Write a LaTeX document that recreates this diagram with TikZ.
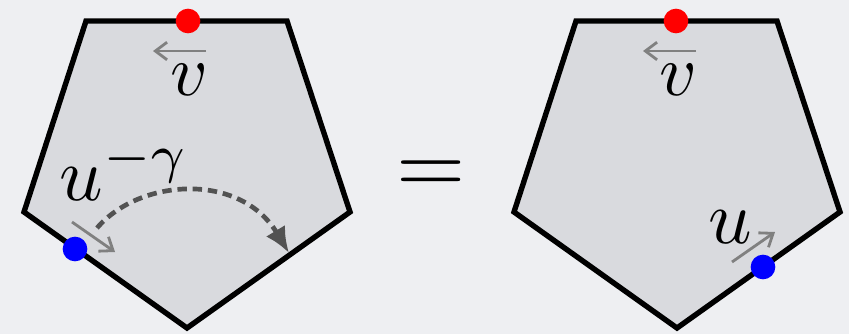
\documentclass[tikz,border=0pt]{standalone}
\usetikzlibrary{arrows.meta}
\definecolor{bgcol}{RGB}{238,239,242}
\definecolor{facecol}{RGB}{217,218,222}
\begin{document}
\begin{tikzpicture}[
        x=0.03cm, y=-0.03cm,
        % Styles
        face/.style={draw=black, fill=facecol, line width=4.6pt},
        dot/.style={circle, fill=#1, draw=none, inner sep=0pt, minimum size=0.74cm},
        dir/.style={-{Straight Barb[length=10pt, width=15pt]}, draw=gray, line width=2.4pt},
        move/.style={-{Latex[length=22pt, width=19pt]}, draw=black!68, line width=4pt, dash pattern=on 8pt off 5pt},
        lbl/.style={inner sep=0pt, scale=#1}
    ]

    % Background
    \fill[bgcol] (0,0) rectangle (849,334);
    \useasboundingbox (0,0) rectangle (849,334);

    % Left pentagon
    \draw[face] (86,21) -- (287,21) -- (350,212) -- (187,328) -- (24,212) -- cycle;
    \node[dot=red] (topL) at (188,21) {};
    \node[dot=blue] (uL) at (75,249) {};

    \coordinate (vLs) at (206,51);
    \coordinate (vLe) at (153,51);
    \draw[dir] (vLs) -- (vLe);
    \node[lbl=6.2, anchor=base] (vL) at (189,95) {$v$};

    \coordinate (uLs) at (72,222);
    \coordinate (uLe) at (115,252);
    \draw[dir] (uLs) -- (uLe);
    \node[lbl=6.5, anchor=base west] (uLlbl) at (58,200) {$u^{-\gamma}$};

    \coordinate (arcS) at (97,228);
    \coordinate (arcE) at (289,253);
    \draw[move] (arcS) .. controls (140,178) and (240,172) .. (arcE);

    % Equality
    \node[lbl=7.6, anchor=base] (eq) at (431,193) {$=$};

    % Right pentagon
    \draw[face] (576,21) -- (777,21) -- (840,212) -- (677,328) -- (514,212) -- cycle;
    \node[dot=red] (topR) at (676,21) {};
    \node[dot=blue] (uR) at (763,267) {};

    \coordinate (vRs) at (696,51);
    \coordinate (vRe) at (643,51);
    \draw[dir] (vRs) -- (vRe);
    \node[lbl=6.2, anchor=base] (vR) at (678,95) {$v$};

    \coordinate (uRs) at (732,262);
    \coordinate (uRe) at (775,232);
    \draw[dir] (uRs) -- (uRe);
    \node[lbl=6.5, anchor=base west] (uRlbl) at (707,243) {$u$};

\end{tikzpicture}
\end{document}
